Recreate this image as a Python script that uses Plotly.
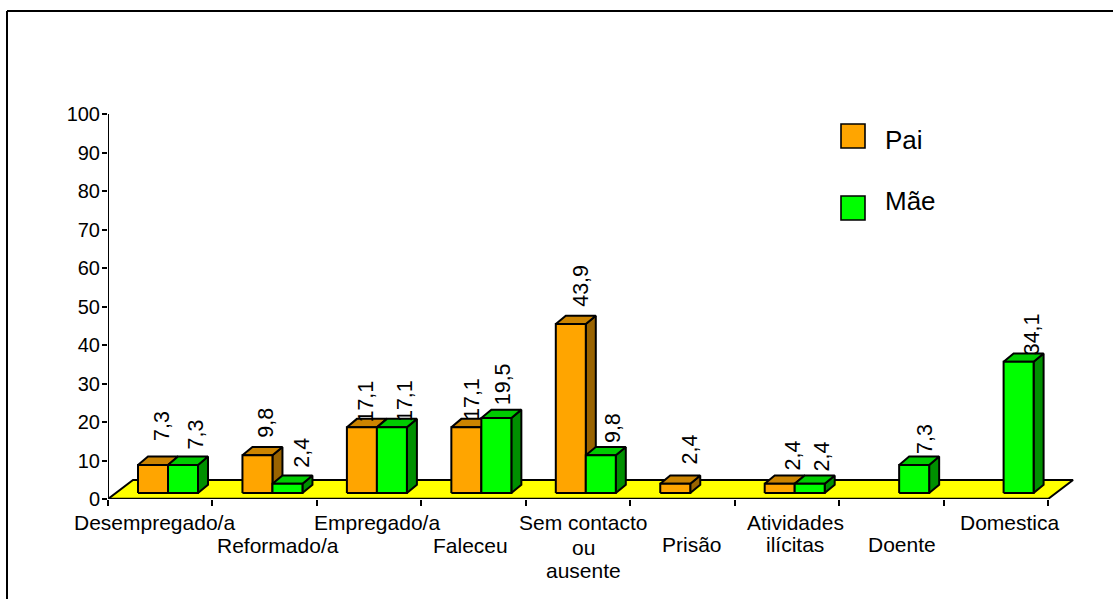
import plotly.graph_objects as go

# ---- data ----
categories = ["Desempregado/a", "Reformado/a", "Empregado/a", "Faleceu", "Sem contacto\nou\nausente",
              "Prisão", "Atividades\nilícitas", "Doente", "Domestica"]
pai = [7.3, 9.8, 17.1, 17.1, 43.9, 2.4, 2.4, None, None]
mae = [7.3, 2.4, 17.1, 19.5, 9.8, None, 2.4, 7.3, 34.1]
y_ticks = list(range(0, 101, 10))

# ---- page geometry (pixels) ----
W, H = 1113, 599
L, T, B = 108, 11, 499
CAT_PX = 104.45
UNIT_PX = 3.85


def px_x(p):
    return (p - L) / (W - L)


def px_y(p):
    return (B - p) / (B - T)


# ---- 3D look, in data units ----
BAR_W = 30 / CAT_PX
BAR_OFF = 30 / CAT_PX
BASE = 6 / UNIT_PX
DX = 10 / CAT_PX
DY = 8.3 / UNIT_PX
FLOOR_DX = 25 / CAT_PX
FLOOR_DY = 19 / UNIT_PX
EDGE = 2

PAI_COL = ("#FFA500", "#CC8400", "#996300")
MAE_COL = ("#00FF00", "#00CC00", "#009000")

# label nudges (pixels) relative to each bar's front top centre
pai_nudge = [(9, 39), (9, 33), (4.5, 26), (5.5, 28), (10, 38), (14.5, 34), (13, 28), None, None]
mae_nudge = [(12.5, 30), (14.5, 31), (13, 26), (7, 34), (12, 27), None, (12, 27), (11, 26), (13, 27)]

# category label centres: (x px, [y px for each line])
cat_label_pos = [(154, [522]), (278, [545]), (377, [522]), (470, [545]), (583, [522, 547, 570]),
                 (692, [544]), (795, [522, 544]), (902, [544]), (1010, [522])]

fig = go.Figure()


def poly(xs, ys, fill, name=""):
    fig.add_trace(go.Scatter(x=xs + xs[:1], y=ys + ys[:1], mode="lines", fill="toself", fillcolor=fill,
                             line=dict(color="black", width=EDGE), hoverinfo="skip", showlegend=False,
                             name=name, cliponaxis=False))


# floor
n = len(categories)
poly([0, n, n + FLOOR_DX, FLOOR_DX], [0, 0, FLOOR_DY, FLOOR_DY], "#FFFF00", "floor")


def bar(i, slot, v, cols, name):
    x0 = i + BAR_OFF + slot * BAR_W
    x1 = x0 + BAR_W
    y0 = BASE
    y1 = BASE + v
    poly([x1, x1 + DX, x1 + DX, x1], [y0, y0 + DY, y1 + DY, y1], cols[2], name)
    poly([x0, x1, x1 + DX, x0 + DX], [y1, y1, y1 + DY, y1 + DY], cols[1], name)
    poly([x0, x1, x1, x0], [y0, y0, y1, y1], cols[0], name)


annotations = []
for i in range(n):
    for slot, (vals, cols, name, nudges) in enumerate(
            [(pai, PAI_COL, "Pai", pai_nudge), (mae, MAE_COL, "Mãe", mae_nudge)]):
        v = vals[i]
        if v is None:
            continue
        bar(i, slot, v, cols, name)
        sx, sy = nudges[i]
        annotations.append(dict(
            x=i + BAR_OFF + (slot + 0.5) * BAR_W, y=BASE + v, xref="x", yref="y",
            text=f"{v:.1f}".replace(".", ","), textangle=-90, showarrow=False,
            xanchor="center", yanchor="middle", xshift=sx, yshift=sy,
            font=dict(family="Liberation Sans", size=21.5, color="black")))

# axis lines
fig.add_trace(go.Scatter(x=[0, n], y=[0, 0], mode="lines", line=dict(color="black", width=2.6),
                         hoverinfo="skip", showlegend=False, cliponaxis=False))
fig.add_trace(go.Scatter(x=[0, 0], y=[0, y_ticks[-1]], mode="lines", line=dict(color="black", width=2),
                         hoverinfo="skip", showlegend=False, cliponaxis=False))

# category labels
for label, (cx, ys) in zip(categories, cat_label_pos):
    for line, py in zip(label.split("\n"), ys):
        annotations.append(dict(x=px_x(cx), y=px_y(py), xref="paper", yref="paper", text=line, showarrow=False,
                                xanchor="center", yanchor="middle",
                                font=dict(family="Liberation Sans", size=21, color="black")))

# legend
shapes = []
for name, col, sy, ty in [("Pai", PAI_COL[0], 124, 140), ("Mãe", MAE_COL[0], 196, 201)]:
    shapes.append(dict(type="rect", xref="paper", yref="paper", x0=px_x(841), x1=px_x(865),
                       y0=px_y(sy), y1=px_y(sy + 24), fillcolor=col, line=dict(color="black", width=1.6)))
    annotations.append(dict(x=px_x(883), y=px_y(ty), xref="paper", yref="paper", text=name, showarrow=False,
                            xanchor="left", yanchor="middle",
                            font=dict(family="Liberation Sans", size=26, color="black")))

# outer frame: left and top edges only
shapes.append(dict(type="line", xref="paper", yref="paper", x0=px_x(7), x1=px_x(7), y0=px_y(11), y1=px_y(H),
                   line=dict(color="black", width=2)))
shapes.append(dict(type="line", xref="paper", yref="paper", x0=px_x(7), x1=px_x(W), y0=px_y(11), y1=px_y(11),
                   line=dict(color="black", width=2)))

fig.update_layout(
    width=W, height=H, margin=dict(l=L, r=0, t=T, b=H - B, pad=0),
    paper_bgcolor="white", plot_bgcolor="white", showlegend=False,
    annotations=annotations, shapes=shapes,
    font=dict(family="Liberation Sans", color="black"),
    xaxis=dict(range=[0, (W - L) / CAT_PX], tickvals=list(range(n + 1)), ticks="outside", ticklen=6,
               tickwidth=1.5, tickcolor="black", showticklabels=False, showgrid=False, zeroline=False,
               showline=False, fixedrange=True),
    yaxis=dict(range=[0, (B - T) / UNIT_PX], tickvals=y_ticks, ticks="outside", ticklen=5, tickwidth=1.5,
               tickcolor="black", tickfont=dict(family="Liberation Sans", size=20, color="black"),
               ticklabelstandoff=-2, showgrid=False, zeroline=False, showline=False, fixedrange=True),
)

fig.write_html("out.html", config=dict(displayModeBar=False),
               post_script="document.body.style.margin='0';document.body.style.overflow='hidden';")
